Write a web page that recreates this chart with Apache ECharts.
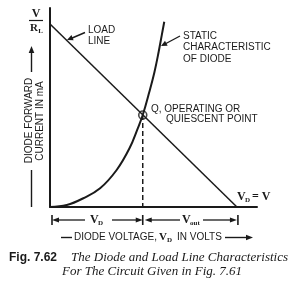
<!DOCTYPE html>
<html>
<head>
<meta charset="utf-8">
<script src="https://cdn.jsdelivr.net/npm/echarts@6/dist/echarts.min.js"></script>
<style>
  html, body { margin: 0; padding: 0; background: #fff; }
  #chart { width: 295px; height: 282px; }
</style>
</head>
<body>
<div id="chart"></div>
<script>
// load line: from V/RL on the current axis down to VD = V on the voltage axis
var loadLineX = [0, 90.3];
var loadLineY = [92, 0];
// static characteristic of the diode
var diodeX = [0, 8.1, 16.1, 24.2, 32.2, 38.4, 42.5, 44.8, 48.0, 50.5, 52.5, 54.0, 55.2];
var diodeY = [0, 1.0, 4.4, 9.4, 18.6, 29.5, 39.8, 46.2, 57.9, 68.0, 78.0, 86.4, 93.1];
// operating point Q
var qPoint = [44.8, 46.2];

var ink = '#1a1a1a';
var sans = '"Liberation Sans", Arial, sans-serif';
var serif = '"Liberation Serif", "Times New Roman", serif';

function pairs(xs, ys) {
    return xs.map(function (x, i) { return [x, ys[i]]; });
}

var option = {
    animation: false,
    backgroundColor: '#fff',
    grid: { left: 50, top: 8, width: 207, height: 199 },
    xAxis: {
        type: 'value', min: 0, max: 100,
        axisLine: { show: true, lineStyle: { color: ink, width: 2 } },
        axisTick: { show: false }, axisLabel: { show: false }, splitLine: { show: false }
    },
    yAxis: {
        type: 'value', min: 0, max: 100,
        axisLine: { show: true, lineStyle: { color: ink, width: 2 } },
        axisTick: { show: false }, axisLabel: { show: false }, splitLine: { show: false }
    },
    series: [
        {
            name: 'load line', type: 'line', symbol: 'none',
            lineStyle: { color: ink, width: 1.5 },
            data: pairs(loadLineX, loadLineY)
        },
        {
            name: 'diode', type: 'line', symbol: 'none', smooth: 0.4,
            lineStyle: { color: ink, width: 2 },
            data: pairs(diodeX, diodeY)
        },
        {
            name: 'q drop', type: 'line', symbol: 'none',
            lineStyle: { color: ink, width: 1.5, type: [5, 3] },
            data: [qPoint, [qPoint[0], 0]]
        },
        {
            name: 'Q', type: 'scatter', symbol: 'circle', symbolSize: 8,
            itemStyle: { color: 'rgba(0,0,0,0)', borderColor: ink, borderWidth: 1.6 },
            data: [qPoint]
        }
    ]
};

var chart = echarts.init(document.getElementById('chart'));
chart.setOption(option);

// graphic helpers
function txt(x, y, s, font, align, rot, sx) {
    return {
        type: 'text', x: x, y: y, rotation: rot || 0, scaleX: sx || 1, silent: true,
        style: {
            text: s, x: 0, y: 0, font: font, fill: ink,
            align: align || 'left', textAlign: align || 'left',
            verticalAlign: 'middle', textVerticalAlign: 'middle'
        }
    };
}
function seg(x1, y1, x2, y2, w) {
    return { type: 'line', silent: true, shape: { x1: x1, y1: y1, x2: x2, y2: y2 },
        style: { stroke: ink, lineWidth: w || 1.3 } };
}
function head(tx, ty, fx, fy, len, half) {
    var dx = tx - fx, dy = ty - fy, d = Math.sqrt(dx * dx + dy * dy);
    var ux = dx / d, uy = dy / d;
    var bx = tx - ux * len, by = ty - uy * len;
    return { type: 'polygon', silent: true,
        shape: { points: [[tx, ty], [bx - uy * half, by + ux * half], [bx + uy * half, by - ux * half]] },
        style: { fill: ink } };
}

var o = chart.convertToPixel({ gridIndex: 0 }, [0, 0]);
var q = chart.convertToPixel({ gridIndex: 0 }, [qPoint[0], 0]);
var e = chart.convertToPixel({ gridIndex: 0 }, [loadLineX[1], 0]);
var pTop = chart.convertToPixel({ gridIndex: 0 }, [0, loadLineY[0]]);
var dimY = o[1] + 13;

var g = [];
// V / RL at the top of the current axis
g.push(txt(36, 14, 'V', 'bold 12px ' + serif, 'center'));
g.push(seg(29, 20.5, 43, 20.5, 1.2));
g.push(txt(34, pTop[1] + 4, 'R', 'bold 11px ' + serif, 'center'));
g.push(txt(40.5, pTop[1] + 7, 'L', 'bold 7px ' + serif, 'center'));

// load line label + arrow
g.push(txt(88, 30, 'LOAD', '10px ' + sans));
g.push(txt(88, 41.5, 'LINE', '10px ' + sans));
g.push(seg(85, 32.5, 71, 38.5, 1.4));
g.push(head(67, 40, 85, 32.5, 6, 2.8));

// diode label + arrow
g.push(txt(183, 36.5, 'STATIC', '10px ' + sans));
g.push(txt(183, 47.5, 'CHARACTERISTIC', '10px ' + sans));
g.push(txt(183, 59, 'OF DIODE', '10px ' + sans));
g.push(seg(180, 36, 165, 44, 1.4));
g.push(head(161, 46, 180, 36, 6, 2.8));

// Q text
g.push(txt(151, 109.5, 'Q, OPERATING OR', '10px ' + sans));
g.push(txt(166, 119, 'QUIESCENT POINT', '10px ' + sans));

// VD = V at the end of the load line
g.push(txt(e[0], o[1] - 10, 'V', 'bold 12px ' + serif));
g.push(txt(e[0] + 8, o[1] - 7, 'D', 'bold 7px ' + serif));
g.push(txt(e[0] + 15, o[1] - 10, '= V', 'bold 12px ' + serif));

// y axis title
g.push(txt(29, 120.5, 'DIODE FORWARD', '10px ' + sans, 'center', Math.PI / 2));
g.push(txt(40, 121, 'CURRENT IN mA', '10px ' + sans, 'center', Math.PI / 2));
g.push(seg(31.5, 72, 31.5, 52, 1.4));
g.push(head(31.5, 46, 31.5, 72, 7, 2.8));
g.push(seg(31.5, 170, 31.5, o[1], 1.4));

// dimension: VD
g.push(seg(o[0] + 2, dimY - 5, o[0] + 2, dimY + 5, 1.6));
g.push(head(o[0] + 2, dimY, o[0] + 20, dimY, 7, 2.6));
g.push(seg(o[0] + 8, dimY, 85, dimY));
g.push(txt(90, dimY, 'V', 'bold 12px ' + serif));
g.push(txt(98, dimY + 3, 'D', 'bold 7px ' + serif));
g.push(seg(112, dimY, q[0] - 6, dimY));
g.push(head(q[0], dimY, q[0] - 20, dimY, 7, 2.6));
g.push(seg(q[0], dimY - 5, q[0], dimY + 5, 1.6));
// dimension: Vout
g.push(head(q[0] + 2, dimY, q[0] + 20, dimY, 7, 2.6));
g.push(seg(q[0] + 8, dimY, 180, dimY));
g.push(txt(182, dimY, 'V', 'bold 12px ' + serif));
g.push(txt(190, dimY + 3, 'out', 'bold 7px ' + serif));
g.push(seg(203, dimY, e[0] - 6, dimY));
g.push(head(e[0], dimY, e[0] - 20, dimY, 7, 2.6));
g.push(seg(e[0] + 1, dimY - 5, e[0] + 1, dimY + 5, 1.6));

// x axis title
var tY = 237.5;
g.push(seg(61, tY, 72, tY, 1.4));
g.push(txt(74, tY, 'DIODE VOLTAGE,', '10px ' + sans));
g.push(txt(159, tY, 'V', 'bold 11px ' + serif));
g.push(txt(167, tY + 2.5, 'D', 'bold 7px ' + serif));
g.push(txt(177, tY, 'IN VOLTS', '10px ' + sans));
g.push(seg(225, tY, 246, tY, 1.4));
g.push(head(253, tY, 238, tY, 7, 2.8));

// caption
g.push(txt(9, 258, 'Fig. 7.62', 'bold 12px ' + sans));
g.push(txt(71, 258, 'The Diode and Load Line Characteristics', 'italic 13px ' + serif));
g.push(txt(62, 272, 'For The Circuit Given in Fig. 7.61', 'italic 13px ' + serif));

chart.setOption({ graphic: { elements: g } });
</script>
</body>
</html>
